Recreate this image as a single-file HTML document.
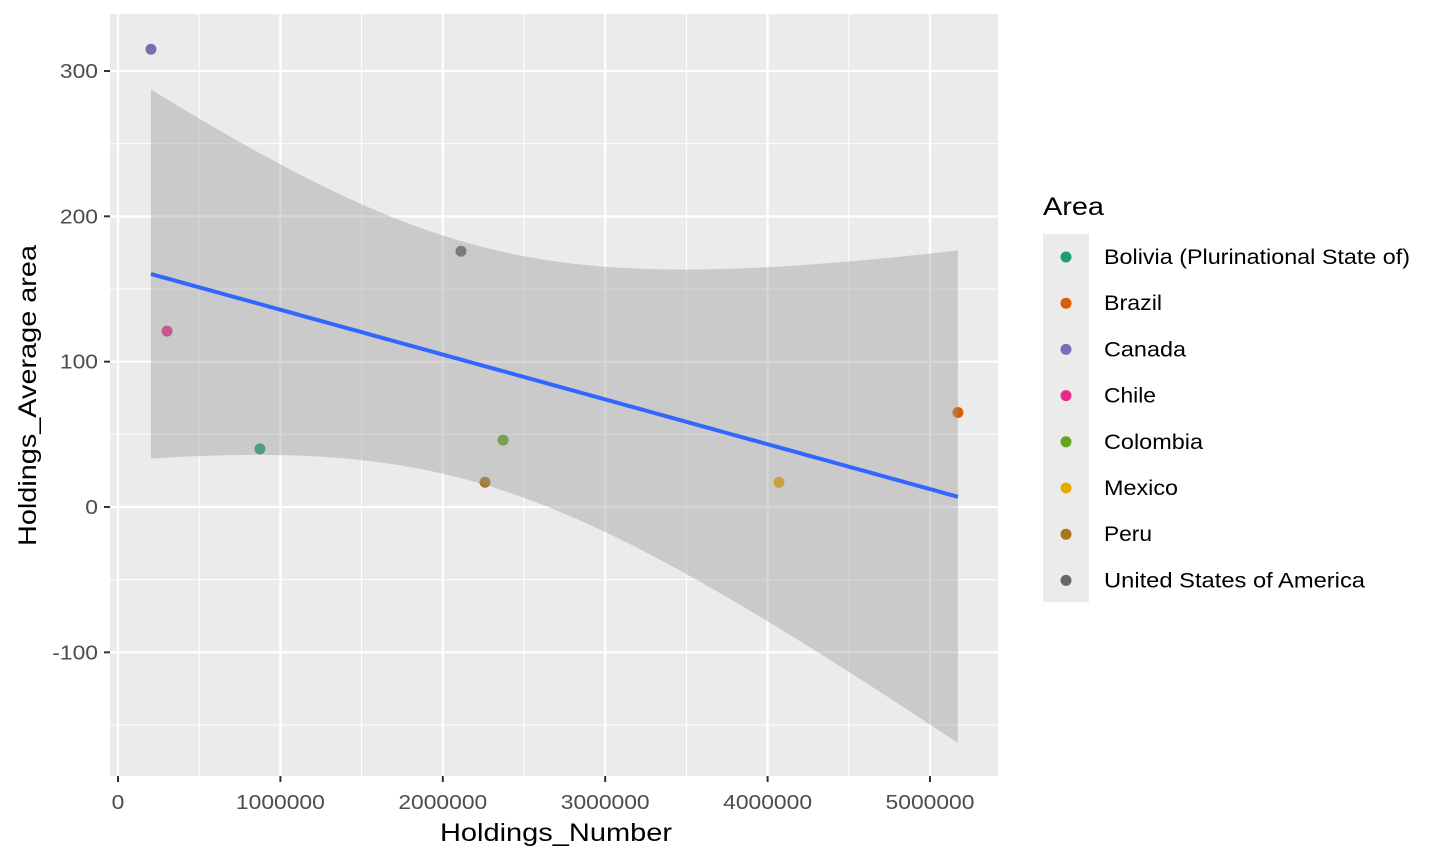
<!DOCTYPE html>
<html><head><meta charset="utf-8"><style>
html,body{margin:0;padding:0;background:#fff;}
svg{display:block;font-family:"Liberation Sans",sans-serif;}
</style></head><body>
<svg id="chart" width="1440" height="864">
<rect x="110" y="14" width="888" height="762" fill="#EBEBEB"/>
<g id="grid"></g><g id="marks"></g><g id="axes"></g>
<text x="440" y="841" font-size="25" textLength="232" lengthAdjust="spacingAndGlyphs" fill="#000">Holdings_Number</text>
<text transform="translate(36,546) rotate(-90)" font-size="25" textLength="301" lengthAdjust="spacingAndGlyphs" fill="#000">Holdings_Average area</text>
<text x="1043" y="215" font-size="25" textLength="61" lengthAdjust="spacingAndGlyphs" fill="#000">Area</text>
<rect x="1043" y="234" width="46" height="368" fill="#EBEBEB"/>
<g id="legend"></g>
</svg>
<script>
const areas=["Bolivia (Plurinational State of)","Brazil","Canada","Chile","Colombia","Mexico","Peru","United States of America"];
const holdingsNumber=[874000,5172000,203000,302000,2371000,4070000,2260000,2112000];
const avgArea=[40,65,315,121,46,17,17,176];
const colors=["#1B9E77","#D95F02","#7570B3","#E7298A","#66A61E","#E6AB02","#A6761D","#666666"];
const xTicks=[0,1000000,2000000,3000000,4000000,5000000];
const yTicks=[-100,0,100,200,300];
const legendWidths=[306,58,82,52,99,74,48,261];
const NS="http://www.w3.org/2000/svg";
const X=v=>118+v*162.4e-6;
const Y=v=>507-v*1.4533;
function mk(tag,at,parent){const e=document.createElementNS(NS,tag);for(const k in at)e.setAttribute(k,at[k]);document.getElementById(parent).appendChild(e);return e;}
function tw(s){let w=0;for(const ch of s)w+=(ch==='-')?7.6:12.7;return w;}
for(let i=0;i<xTicks.length;i++){
 const v=xTicks[i];
 const m=mk('line',{x1:X(v+500000),x2:X(v+500000),y1:14,y2:776,stroke:'#fff','stroke-width':1},'grid');
 
 const g=mk('line',{x1:X(v),x2:X(v),y1:14,y2:776,stroke:'#fff','stroke-width':2.2},'grid');
 
 const t=mk('line',{x1:X(v),x2:X(v),y1:776,y2:782,stroke:'#333','stroke-width':2},'axes');
 
 const s=String(v),w=tw(s);
 const l=mk('text',{x:X(v)-w/2,y:809,'font-size':20,textLength:w,lengthAdjust:'spacingAndGlyphs',fill:'#4D4D4D'},'axes');
 l.textContent=s;
}
for(const v of [-150,-50,50,150,250]){
 const m=mk('line',{x1:110,x2:998,y1:Y(v),y2:Y(v),stroke:'#fff','stroke-width':1},'grid');
 
}
for(const v of yTicks){
 const g=mk('line',{x1:110,x2:998,y1:Y(v),y2:Y(v),stroke:'#fff','stroke-width':2.2},'grid');
 
 const t=mk('line',{x1:104,x2:110,y1:Y(v),y2:Y(v),stroke:'#333','stroke-width':2},'axes');
 
 const s=String(v),w=tw(s);
 const l=mk('text',{x:98-w,y:Y(v)+7,'font-size':20,textLength:w,lengthAdjust:'spacingAndGlyphs',fill:'#4D4D4D'},'axes');
 l.textContent=s;
}
for(let i=0;i<areas.length;i++){
 const c=mk('circle',{cx:X(holdingsNumber[i]),cy:Y(avgArea[i]),r:5.5,fill:colors[i]},'marks');
 
 
}
const n=holdingsNumber.length;
const mx=holdingsNumber.reduce((a,b)=>a+b)/n, my=avgArea.reduce((a,b)=>a+b)/n;
let sxx=0,sxy=0;for(let i=0;i<n;i++){sxx+=(holdingsNumber[i]-mx)**2;sxy+=(holdingsNumber[i]-mx)*(avgArea[i]-my);}
const b=sxy/sxx,a=my-b*mx;
let sse=0;for(let i=0;i<n;i++)sse+=(avgArea[i]-a-b*holdingsNumber[i])**2;
const s=Math.sqrt(sse/(n-2)),tq=2.4469;
const x0=Math.min(...holdingsNumber),x1=Math.max(...holdingsNumber);
let up=[],lo=[],ln=[];
for(let k=0;k<=80;k++){const x=x0+(x1-x0)*k/80;const f=a+b*x;const se=s*Math.sqrt(1/n+(x-mx)**2/sxx);
 up.push(X(x)+','+Y(f+tq*se));lo.unshift(X(x)+','+Y(f-tq*se));ln.push(X(x)+','+Y(f));}
const band=mk('polygon',{points:up.concat(lo).join(' '),fill:'#999999','fill-opacity':0.4},'marks');

const line=mk('polyline',{points:ln.join(' '),fill:'none',stroke:'#3366FF','stroke-width':4},'marks');

for(let i=0;i<areas.length;i++){
 const y=257+i*46.2;
 const c=mk('circle',{cx:1066,cy:y,r:5.5,fill:colors[i]},'legend');
 
 const t=mk('text',{x:1104,y:y+7,'font-size':21,textLength:legendWidths[i],lengthAdjust:'spacingAndGlyphs',fill:'#000'},'legend');
 t.textContent=areas[i];
}
</script>
</body></html>
